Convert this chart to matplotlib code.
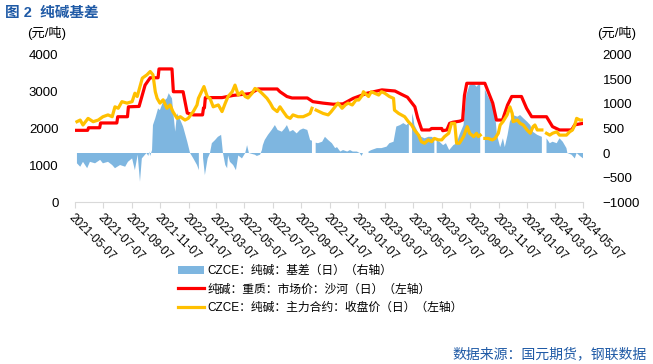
import numpy as np
import pandas as pd
import matplotlib.pyplot as plt
from matplotlib.patches import Patch
from matplotlib.lines import Line2D

plt.rcParams['font.family'] = ['Liberation Sans', 'Noto Sans CJK SC']

# 纯碱：重质：市场价：沙河（日）
spot_dates = [
    "2021-05-07", "2021-06-03", "2021-06-05", "2021-06-29", "2021-07-01", "2021-08-05",
    "2021-08-07", "2021-08-28", "2021-08-30", "2021-09-22", "2021-10-05", "2021-10-16",
    "2021-11-02", "2021-11-04", "2021-12-02", "2021-12-05", "2021-12-26", "2022-01-04",
    "2022-01-17", "2022-02-06", "2022-02-08", "2022-02-10", "2022-02-12", "2022-03-20",
    "2022-04-13", "2022-05-20", "2022-06-06", "2022-07-17", "2022-07-23", "2022-08-07",
    "2022-08-18", "2022-09-20", "2022-10-02", "2022-10-24", "2022-11-15", "2022-12-06",
    "2022-12-28", "2023-01-27", "2023-02-28", "2023-03-28", "2023-04-11", "2023-04-24",
    "2023-05-10", "2023-05-16", "2023-05-25", "2023-06-11", "2023-06-15", "2023-07-07",
    "2023-07-09", "2023-07-18", "2023-07-24", "2023-07-31", "2023-08-15", "2023-08-21",
    "2023-08-25", "2023-08-30", "2023-10-08", "2023-10-18", "2023-10-25", "2023-11-02",
    "2023-11-15", "2023-11-26", "2023-12-05", "2023-12-26", "2024-01-06", "2024-01-17",
    "2024-02-18", "2024-03-02", "2024-03-17", "2024-04-12", "2024-04-19", "2024-05-07",
]
spot_vals = [
    1950, 1950, 2020, 2020, 2150, 2150,
    2320, 2320, 2590, 2600, 3180, 3380,
    3380, 3620, 3620, 3000, 3000, 2420,
    2370, 2370, 2560, 2560, 2840, 2840,
    2900, 2950, 3075, 3075, 3000, 2870,
    2830, 2830, 2730, 2690, 2660, 2670,
    2820, 2960, 3050, 3020, 2930, 2850,
    2590, 2290, 1960, 1960, 2000, 2000,
    1940, 1960, 2140, 2170, 2200, 2230,
    2900, 3230, 3230, 2910, 2690, 2230,
    2230, 2640, 2870, 2870, 2550, 2320,
    2320, 2050, 1960, 1960, 2100, 2140,
]

# CZCE：纯碱：主力合约：收盘价（日）
fut_dates = [
    "2021-05-11", "2021-05-18", "2021-05-24", "2021-06-04", "2021-06-15", "2021-06-26",
    "2021-07-06", "2021-07-17", "2021-07-26", "2021-08-01", "2021-08-08", "2021-08-16",
    "2021-08-27", "2021-09-07", "2021-09-13", "2021-09-18", "2021-09-24", "2021-09-29",
    "2021-10-09", "2021-10-16", "2021-10-22", "2021-10-27", "2021-10-31", "2021-11-06",
    "2021-11-13", "2021-11-21", "2021-11-28", "2021-12-04", "2021-12-13", "2021-12-20",
    "2021-12-30", "2022-01-06", "2022-01-17", "2022-01-25", "2022-01-28", "2022-02-09",
    "2022-02-16", "2022-02-22", "2022-03-01", "2022-03-12", "2022-03-20", "2022-03-27",
    "2022-04-02", "2022-04-11", "2022-04-17", "2022-04-24", "2022-05-02", "2022-05-09",
    "2022-05-15", "2022-05-24", "2022-05-30", "2022-06-06", "2022-06-14", "2022-06-25",
    "2022-07-02", "2022-07-08", "2022-07-17", "2022-07-23", "2022-07-30", "2022-08-07",
    "2022-08-14", "2022-08-20", "2022-08-31", "2022-09-11", "2022-09-20", "2022-09-26",
    "2022-09-30", "2022-10-04", "2022-10-09", "2022-10-24", "2022-11-04", "2022-11-10",
    "2022-11-17", "2022-11-25", "2022-12-04", "2022-12-11", "2022-12-17", "2022-12-26",
    "2023-01-03", "2023-01-09", "2023-01-17", "2023-01-19", "2023-01-30", "2023-02-05",
    "2023-02-12", "2023-02-21", "2023-02-27", "2023-03-06", "2023-03-16", "2023-03-25",
    "2023-03-27", "2023-04-05", "2023-04-11", "2023-04-18", "2023-04-26", "2023-05-03",
    "2023-05-09", "2023-05-18", "2023-05-24", "2023-05-31", "2023-06-08", "2023-06-15",
    "2023-06-21", "2023-06-30", "2023-07-07", "2023-07-13", "2023-07-22", "2023-07-28",
    "2023-08-04", "2023-08-08", "2023-08-14", "2023-08-23", "2023-08-31", "2023-09-05",
    "2023-09-14", "2023-09-20", "2023-09-24", "2023-09-28", "2023-10-03", "2023-10-08",
    "2023-10-15", "2023-10-24", "2023-10-30", "2023-11-06", "2023-11-10", "2023-11-16",
    "2023-11-25", "2023-12-01", "2023-12-06", "2023-12-08", "2023-12-17", "2023-12-23",
    "2023-12-30", "2024-01-07", "2024-01-14", "2024-01-20", "2024-01-24", "2024-01-29",
    "2024-02-04", "2024-02-08", "2024-02-12", "2024-02-18", "2024-02-25", "2024-03-02",
    "2024-03-11", "2024-03-17", "2024-03-24", "2024-04-01", "2024-04-08", "2024-04-14",
    "2024-04-19", "2024-04-23", "2024-04-30", "2024-05-07",
]
fut_vals = [
    2185, 2230, 2095, 2275, 2185, 2230,
    2320, 2370, 2320, 2590, 2550, 2730,
    2690, 2730, 2960, 2870, 3140, 3370,
    3460, 3550, 3460, 3000, 2820, 2690,
    2780, 2550, 2640, 2460, 2275, 2320,
    2230, 2275, 2460, 2640, 2820, 3140,
    2870, 2820, 2590, 2640, 2460, 2690,
    2870, 3000, 3180, 2910, 3000, 2870,
    2830, 2960, 3090, 3050, 2960, 2820,
    2690, 2550, 2460, 2590, 2460, 2320,
    2275, 2370, 2320, 2320, 2370, 2410,
    2550, np.nan, 2500, 2410, 2370, 2450,
    2560, 2690, 2550, 2640, 2690, 2640,
    2775, 2775, 2910, 3000, 2870, 3000,
    2960, 2910, 3000, 2960, 2870, 2820,
    2500, 2410, 2370, 2320, 2185, 2095,
    1960, 1820, 1640, 1600, 1690, 1640,
    1730, 1690, 1690, 1780, 1870, 2140,
    2140, 1600, 1600, 1780, 2050, 1870,
    1780, 1870, 1780, 1820, np.nan, 1730,
    1730, 1690, 1730, 1870, 2095, 2185,
    2370, 2590, 2410, 2185, 2230, 2140,
    2095, 1960, 1870, 2050, 2095, 1960,
    1960, 1960, np.nan, 1870, 1820, 1870,
    1910, 1820, 1820, 1820, 1910, 1960,
    2095, 2275, 2230, 2230,
]

# CZCE：纯碱：基差（日），右轴
basis_dates = [
    "2021-05-11", "2021-05-18", "2021-05-24", "2021-06-02", "2021-06-08", "2021-06-19",
    "2021-06-30", "2021-07-06", "2021-07-17", "2021-07-26", "2021-08-01", "2021-08-12",
    "2021-08-23", "2021-08-29", "2021-09-07", "2021-09-13", "2021-09-19", "2021-09-24",
    "2021-09-28", "2021-10-08", "2021-10-12", "2021-10-14", "2021-10-16", "2021-10-20",
    "2021-10-22", "2021-10-27", "2021-11-02", "2021-11-06", "2021-11-13", "2021-11-21",
    "2021-11-25", "2021-12-02", "2021-12-04", "2021-12-09", "2021-12-13", "2021-12-20",
    "2021-12-26", "2022-01-04", "2022-01-10", "2022-01-17", "2022-01-25", "2022-01-29",
    "2022-02-03", "2022-02-07", "2022-02-11", "2022-02-17", "2022-02-22", "2022-02-26",
    "2022-03-05", "2022-03-11", "2022-03-18", "2022-03-22", "2022-03-27", "2022-03-31",
    "2022-04-02", "2022-04-06", "2022-04-13", "2022-04-19", "2022-04-24", "2022-05-02",
    "2022-05-09", "2022-05-13", "2022-05-17", "2022-05-24", "2022-05-30", "2022-06-03",
    "2022-06-10", "2022-06-14", "2022-06-16", "2022-06-20", "2022-06-27", "2022-07-05",
    "2022-07-12", "2022-07-18", "2022-07-27", "2022-08-02", "2022-08-07", "2022-08-13",
    "2022-08-20", "2022-08-28", "2022-09-04", "2022-09-11", "2022-09-20", "2022-09-26",
    "2022-09-30", "2022-10-04", "2022-10-08", "2022-10-13", "2022-10-22", "2022-10-28",
    "2022-11-04", "2022-11-12", "2022-11-19", "2022-11-23", "2022-11-30", "2022-12-06",
    "2022-12-15", "2022-12-21", "2022-12-27", "2023-01-05", "2023-01-11", "2023-01-15",
    "2023-01-18", "2023-01-24", "2023-01-30", "2023-02-05", "2023-02-17", "2023-02-27",
    "2023-03-10", "2023-03-16", "2023-03-25", "2023-03-31", "2023-04-08", "2023-04-15",
    "2023-04-22", "2023-04-27", "2023-05-01", "2023-05-04", "2023-05-07", "2023-05-09",
    "2023-05-18", "2023-05-24", "2023-05-31", "2023-06-08", "2023-06-15", "2023-06-21",
    "2023-06-23", "2023-06-26", "2023-07-02", "2023-07-10", "2023-07-16", "2023-07-23",
    "2023-08-01", "2023-08-08", "2023-08-14", "2023-08-23", "2023-08-29", "2023-09-05",
    "2023-09-14", "2023-09-20", "2023-09-28", "2023-10-03", "2023-10-08", "2023-10-15",
    "2023-10-24", "2023-10-30", "2023-11-03", "2023-11-10", "2023-11-16", "2023-11-20",
    "2023-11-26", "2023-12-01", "2023-12-08", "2023-12-17", "2023-12-23", "2023-12-30",
    "2024-01-07", "2024-01-14", "2024-01-20", "2024-01-29", "2024-02-08", "2024-02-12",
    "2024-02-18", "2024-02-25", "2024-03-02", "2024-03-11", "2024-03-17", "2024-03-24",
    "2024-04-01", "2024-04-03", "2024-04-12", "2024-04-19", "2024-04-23", "2024-04-30",
    "2024-05-07",
]
basis_vals = [
    -210, -280, -180, -310, -180, -210,
    -140, -210, -180, -245, -310, -245,
    -280, -180, -110, -350, -35, -585,
    -110, 0, -60, 30, -60, 60,
    570, 710, 910, 875, 1050, 1115,
    1220, 1115, 910, 435, 810, 675,
    540, 230, 0, -110, -245, -350,
    np.nan, -100, -450, -110, 0, 200,
    265, 330, 370, 0, -245, -310,
    -50, -180, -245, -350, -50, -110,
    0, 160, 0, -20, -35, -60,
    -35, 60, 160, 265, 370, 470,
    570, 470, 435, 500, 570, 435,
    470, 400, 470, 500, 470, 265,
    250, np.nan, 210, 200, 230, 330,
    265, 200, 100, 120, 30, 60,
    30, 60, 30, 30, 0, -60,
    0, np.nan, 30, 60, 100, 100,
    130, 200, 230, 540, 570, 610,
    570, 620, np.nan, 810, 700, 570,
    400, 330, 300, 330, 330, 300,
    np.nan, 260, 230, 160, 200, 60,
    160, 200, 370, 570, 1180, 1390,
    1420, 1350, 1445, np.nan, 1300, 1150,
    980, 810, 370, 120, 300, 120,
    370, 640, 775, 740, 775, 710,
    640, 570, 430, 370, 330, np.nan,
    300, 200, 230, 200, 300, 230,
    100, 0, -35, -110, 0, -60,
    -110,
]

x_start = pd.Timestamp("2021-05-07")
x_end = pd.Timestamp("2024-05-07")
xticks = pd.date_range(x_start, x_end, freq=pd.DateOffset(months=2))

blue = "#7EB6E0"
red = "#FF0000"
gold = "#FFC000"
title_blue = "#1F5AA6"

fig = plt.figure(figsize=(6.53, 3.64), dpi=100)
ax1 = fig.add_axes([0.115, 0.445, 0.778, 0.404])
ax2 = ax1.twinx()

bd = pd.to_datetime(basis_dates)
ax2.fill_between(bd, 0, np.array(basis_vals, dtype=float), color=blue, lw=0)
ax1.plot(pd.to_datetime(spot_dates), spot_vals, color=red, lw=2.3)
ax1.plot(pd.to_datetime(fut_dates), fut_vals, color=gold, lw=2.3)

# lines above the basis area
ax1.set_zorder(ax2.get_zorder() + 1)
ax1.patch.set_visible(False)

ax1.set_xlim(x_start, x_end)
ax1.set_ylim(0, 4000)
ax2.set_ylim(-1000, 2000)
ax1.set_yticks(range(0, 4001, 1000))
ax2.set_yticks(range(-1000, 2001, 500))

ax1.set_xticks(xticks)
ax1.set_xticklabels([d.strftime("%Y-%m-%d") for d in xticks], rotation=-45,
                    ha="left", va="top", rotation_mode="anchor", fontsize=8.5)
ax1.tick_params(axis="x", length=4, color="#D9D9D9", pad=3)
ax1.tick_params(axis="y", length=0, labelsize=9.5, pad=12)
ax2.tick_params(axis="y", length=0, labelsize=9.5, pad=14)

for ax in (ax1, ax2):
    for side in ("top", "left", "right"):
        ax.spines[side].set_visible(False)
    ax.spines["bottom"].set_color("#D9D9D9")
ax2.spines["bottom"].set_visible(False)

fig.text(0.008, 0.965, "图 2  纯碱基差", color=title_blue, fontsize=10.5,
         fontweight="bold", va="center", ha="left")
fig.text(0.072, 0.909, "(元/吨)", fontsize=9.5, ha="center", va="center")
fig.text(0.945, 0.909, "(元/吨)", fontsize=9.5, ha="center", va="center")
fig.text(0.991, 0.027, "数据来源：国元期货，钢联数据", color=title_blue, fontsize=10,
         ha="right", va="center")

handles = [
    Patch(facecolor=blue, edgecolor="none"),
    Line2D([], [], color=red, lw=2.3),
    Line2D([], [], color=gold, lw=2.3),
]
labels = [
    "CZCE：纯碱：基差（日）（右轴）",
    "纯碱：重质：市场价：沙河（日）（左轴）",
    "CZCE：纯碱：主力合约：收盘价（日）（左轴）",
]
fig.legend(handles, labels, loc="upper left", bbox_to_anchor=(0.272, 0.272),
           frameon=False, fontsize=8.5, handlelength=2.2, handletextpad=0.3,
           labelspacing=0.55, borderpad=0, borderaxespad=0)

fig.savefig("out.png", dpi=100)
